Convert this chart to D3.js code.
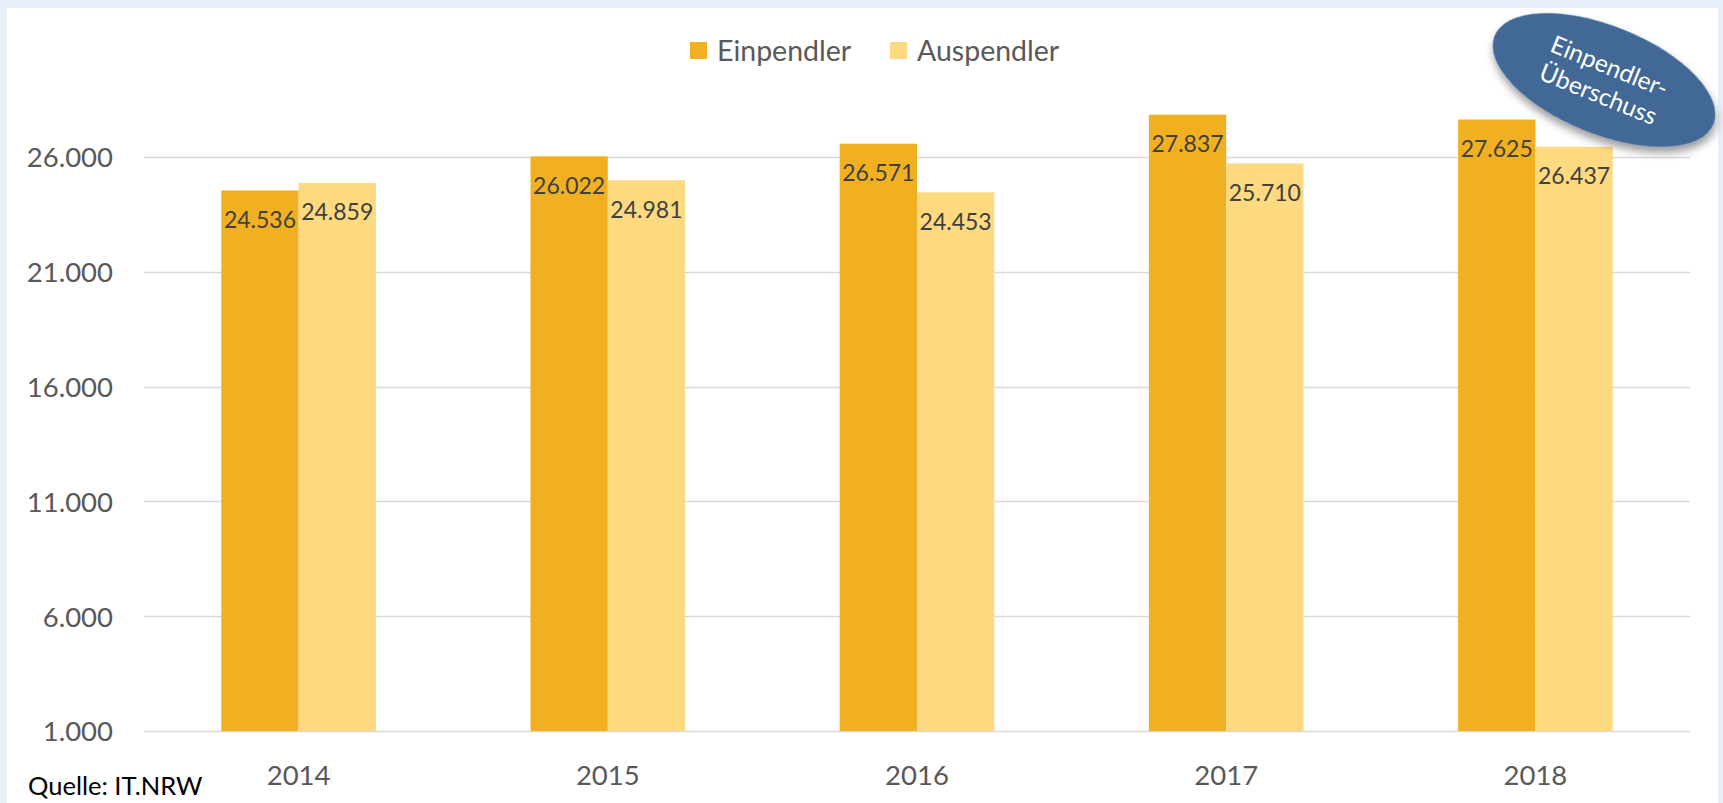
<!DOCTYPE html>
<html>
<head>
<meta charset="utf-8">
<script src="https://cdn.jsdelivr.net/npm/d3@7"></script>
<style>
  html, body { margin: 0; padding: 0; background: #e8eff8; }
  svg { display: block; }
  text { font-family: Lato, "Noto Sans", sans-serif; }
</style>
</head>
<body>
<div id="chart"></div>
<script>
// Pendler data
const years = ['2014', '2015', '2016', '2017', '2018'];
const seriesNames = ['Einpendler', 'Auspendler'];
const einpendler = [24536, 26022, 26571, 27837, 27625];
const auspendler = [24859, 24981, 24453, 25710, 26437];
const yTickValues = [1000, 6000, 11000, 16000, 21000, 26000];
const sourceLabel = 'Quelle: IT.NRW';
const badgeLines = ['Einpendler-', 'Überschuss'];

const config = {
  containerWidth: 1723,
  containerHeight: 803,
  plot: {left: 144, right: 1690, top: 42, bottom: 731},
  colors: {Einpendler: '#f1b021', Auspendler: '#fdd980'},
  grid: '#d9d9d9',
  axisText: '#595959',
  labelText: '#404040'
};

// german number format: 26.000
const de = d3.formatLocale({decimal: ',', thousands: '.', grouping: [3], currency: ['', ' €']});
const fmt = de.format(',');

const svg = d3.select('#chart').append('svg')
    .attr('width', config.containerWidth)
    .attr('height', config.containerHeight);

const defs = svg.append('defs');
const shadow = defs.append('filter')
    .attr('id', 'badge-shadow')
    .attr('x', '-20%').attr('y', '-20%')
    .attr('width', '150%').attr('height', '160%');
shadow.append('feDropShadow')
    .attr('dx', 3).attr('dy', 5)
    .attr('stdDeviation', 4)
    .attr('flood-color', '#000')
    .attr('flood-opacity', 0.4);

// light blue frame + white panel
svg.append('rect')
    .attr('width', config.containerWidth)
    .attr('height', config.containerHeight)
    .attr('fill', '#e8eff8');
svg.append('rect')
    .attr('x', 7).attr('y', 8)
    .attr('width', 1711).attr('height', config.containerHeight - 8)
    .attr('fill', '#fff');

// scales
const xScale = d3.scaleBand()
    .domain(years)
    .range([config.plot.left, config.plot.right]);

// excel gap width 200% -> bar pair takes the middle half of each band
const bw = xScale.bandwidth();
const xSub = d3.scaleBand()
    .domain(seriesNames)
    .range([bw / 4, bw * 3 / 4]);

const yScale = d3.scaleLinear()
    .domain([1000, 31000])
    .range([config.plot.bottom, config.plot.top]);

// gridlines
svg.append('g')
    .selectAll('line')
    .data(yTickValues)
  .join('line')
    .attr('x1', config.plot.left)
    .attr('x2', config.plot.right)
    .attr('y1', d => Math.round(yScale(d)) + 0.5)
    .attr('y2', d => Math.round(yScale(d)) + 0.5)
    .attr('stroke', config.grid)
    .attr('stroke-width', 1.5);

// y axis labels
const yAxis = d3.axisLeft(yScale)
    .tickValues(yTickValues)
    .tickSize(0)
    .tickPadding(0)
    .tickFormat(fmt);

const yAxisG = svg.append('g')
    .attr('transform', 'translate(113,0)')
    .call(yAxis);
yAxisG.select('.domain').remove();
yAxisG.selectAll('text')
    .attr('fill', config.axisText)
    .attr('font-size', 27.5)
    .attr('dy', '0.36em');

// x axis labels
const xAxis = d3.axisBottom(xScale).tickSize(0).tickPadding(0);
const xAxisG = svg.append('g')
    .attr('transform', 'translate(0,775)')
    .call(xAxis);
xAxisG.select('.domain').remove();
xAxisG.selectAll('text')
    .attr('fill', config.axisText)
    .attr('font-size', 27.5)
    .attr('dy', '0.36em');

// bars
const rows = years.map((year, i) => ({
  year: year,
  values: [
    {key: 'Einpendler', value: einpendler[i]},
    {key: 'Auspendler', value: auspendler[i]}
  ]
}));

const groups = svg.append('g')
    .selectAll('g')
    .data(rows)
  .join('g')
    .attr('transform', d => `translate(${xScale(d.year)},0)`);

groups.selectAll('rect')
    .data(d => d.values)
  .join('rect')
    .attr('x', d => xSub(d.key))
    .attr('width', xSub.bandwidth())
    .attr('y', d => yScale(d.value))
    .attr('height', d => yScale(1000) - yScale(d.value))
    .attr('fill', d => config.colors[d.key]);

// data labels, inside end
groups.selectAll('text')
    .data(d => d.values)
  .join('text')
    .attr('x', d => xSub(d.key) + xSub.bandwidth() / 2)
    .attr('y', d => yScale(d.value) + 29)
    .attr('dy', '0.36em')
    .attr('text-anchor', 'middle')
    .attr('font-size', 23)
    .attr('fill', config.labelText)
    .text(d => fmt(d.value));

// legend
const legend = svg.append('g')
    .selectAll('g')
    .data(seriesNames)
  .join('g')
    .attr('transform', (d, i) => `translate(${[690, 890][i]},42)`);

legend.append('rect')
    .attr('width', 17)
    .attr('height', 17)
    .attr('fill', d => config.colors[d]);

legend.append('text')
    .attr('x', 27)
    .attr('y', 8.5)
    .attr('dy', '0.36em')
    .attr('font-size', 28.5)
    .attr('fill', config.axisText)
    .text(d => d);

// "Einpendler-Überschuss" badge
const badge = svg.append('g')
    .attr('transform', 'translate(1604,80) rotate(22)');

badge.append('ellipse')
    .attr('rx', 118)
    .attr('ry', 54)
    .attr('fill', '#436795')
    .attr('filter', 'url(#badge-shadow)');

badge.selectAll('text')
    .data(badgeLines)
  .join('text')
    .attr('x', 0)
    .attr('y', (d, i) => (i - 0.5) * 30)
    .attr('dy', '0.36em')
    .attr('text-anchor', 'middle')
    .attr('font-size', 24.5)
    .attr('fill', '#fff')
    .text(d => d);

// source
svg.append('text')
    .attr('x', 28)
    .attr('y', 786)
    .attr('dy', '0.36em')
    .attr('font-size', 25.5)
    .attr('fill', '#000')
    .text(sourceLabel);
</script>
</body>
</html>
